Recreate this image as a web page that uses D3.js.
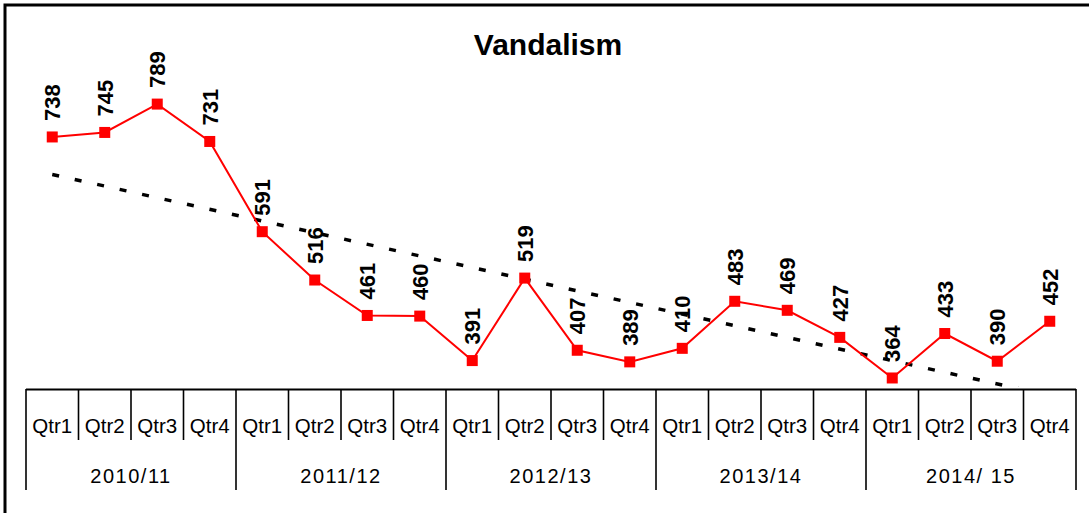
<!DOCTYPE html>
<html>
<head>
<meta charset="utf-8">
<script src="https://cdn.jsdelivr.net/npm/d3@7"></script>
<style>
  body { margin: 0; background: #fff; }
  text { font-family: Arial, "Liberation Sans", sans-serif; }
</style>
</head>
<body>
<div class="chart"></div>
<script>
var svgWidth = 1089;
var svgHeight = 513;

// data
var years = ["2010/11", "2011/12", "2012/13", "2013/14", "2014/ 15"];
var quarters = ["Qtr1", "Qtr2", "Qtr3", "Qtr4"];
var values = [738, 745, 789, 731, 591, 516, 461, 460, 391, 519,
              407, 389, 410, 483, 469, 427, 364, 433, 390, 452];

var plot = { left: 26, right: 1076, top: 97, bottom: 387 };

var svg = d3.select(".chart")
  .append("svg")
  .attr("width", svgWidth)
  .attr("height", svgHeight);

// outer frame (runs off the right and bottom edge)
svg.append("rect")
  .attr("x", 5).attr("y", 5)
  .attr("width", 1200).attr("height", 600)
  .attr("fill", "none")
  .attr("stroke", "#000")
  .attr("stroke-width", 3);

svg.append("text")
  .attr("x", 548)
  .attr("y", 55)
  .attr("text-anchor", "middle")
  .attr("font-size", "30px")
  .attr("font-weight", "bold")
  .text("Vandalism");

var idx = d3.range(values.length);

var xScale = d3.scaleBand()
  .domain(idx)
  .range([plot.left, plot.right])
  .padding(0);

var yScale = d3.scaleLinear()
  .domain([350, 800])
  .range([plot.bottom, plot.top]);

var cx = i => xScale(i) + xScale.bandwidth() / 2;

// category axis with two levels
var axisG = svg.append("g");
axisG.append("line")
  .attr("x1", plot.left).attr("x2", plot.right)
  .attr("y1", 389.5).attr("y2", 389.5)
  .attr("stroke", "#000").attr("stroke-width", 2);

d3.range(values.length + 1).forEach(function(k) {
  var x = k < values.length ? xScale(k) : plot.right;
  var isYear = k % quarters.length === 0;
  axisG.append("line")
    .attr("x1", x).attr("x2", x)
    .attr("y1", 389).attr("y2", isYear ? 490 : 440)
    .attr("stroke", "#000").attr("stroke-width", 1.6);
});

axisG.selectAll(".qtr")
  .data(idx)
  .enter()
  .append("text")
  .attr("class", "qtr")
  .attr("x", d => cx(d))
  .attr("y", 433)
  .attr("text-anchor", "middle")
  .attr("font-size", "20.5px")
  .text(d => quarters[d % quarters.length]);

axisG.selectAll(".year")
  .data(years)
  .enter()
  .append("text")
  .attr("class", "year")
  .attr("x", (d, i) => (xScale(i * 4) + xScale(i * 4 + 3) + xScale.bandwidth()) / 2)
  .attr("y", 483)
  .attr("text-anchor", "middle")
  .attr("font-size", "20px")
  .attr("letter-spacing", "1.5px")
  .text(d => d);

// linear trend line, clipped to the plot area
var n = values.length;
var meanX = d3.mean(idx), meanY = d3.mean(values);
var slope = d3.sum(idx, i => (i - meanX) * (values[i] - meanY)) /
            d3.sum(idx, i => (i - meanX) * (i - meanX));
var icpt = meanY - slope * meanX;

svg.append("clipPath").attr("id", "plotclip")
  .append("rect")
  .attr("x", plot.left).attr("y", plot.top - 60)
  .attr("width", plot.right - plot.left)
  .attr("height", plot.bottom - plot.top + 60);

svg.append("line")
  .attr("clip-path", "url(#plotclip)")
  .attr("x1", cx(0)).attr("y1", yScale(icpt))
  .attr("x2", cx(n - 1)).attr("y2", yScale(icpt + slope * (n - 1)))
  .attr("stroke", "#000")
  .attr("stroke-width", 3.5)
  .attr("stroke-dasharray", "7,16");

// series line
var line = d3.line()
  .x((d, i) => cx(i))
  .y(d => yScale(d));

svg.append("path")
  .datum(values)
  .attr("d", line)
  .attr("fill", "none")
  .attr("stroke", "#ff0000")
  .attr("stroke-width", 2);

svg.selectAll(".marker")
  .data(values)
  .enter()
  .append("rect")
  .attr("class", "marker")
  .attr("x", (d, i) => cx(i) - 5.5)
  .attr("y", d => yScale(d) - 5.5)
  .attr("width", 11)
  .attr("height", 11)
  .attr("fill", "#ff0000");

svg.selectAll(".lbl")
  .data(values)
  .enter()
  .append("text")
  .attr("class", "lbl")
  .attr("transform", (d, i) => `translate(${cx(i)}, ${yScale(d) - 16}) rotate(-90)`)
  .attr("dy", "0.36em")
  .attr("font-size", "22px")
  .attr("font-weight", "bold")
  .text(d => d);
</script>
</body>
</html>
